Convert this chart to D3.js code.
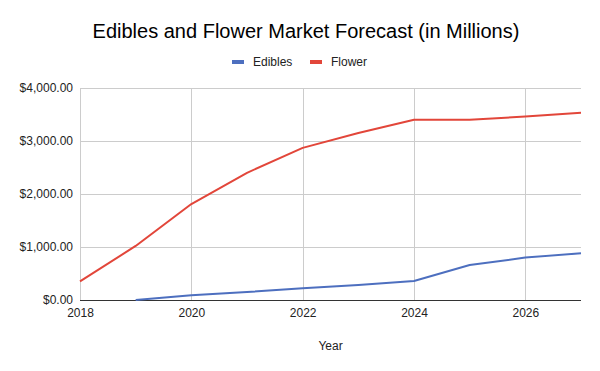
<!DOCTYPE html>
<html>
<head>
<meta charset="utf-8">
<script src="https://cdn.jsdelivr.net/npm/d3@7"></script>
<style>
  body { margin: 0; background: #fff; }
  text { font-family: "Liberation Sans", Arial, sans-serif; }
</style>
</head>
<body>
<div id="chart"></div>
<script>
// data
var years = [2018, 2019, 2020, 2021, 2022, 2023, 2024, 2025, 2026, 2027];
var edibles = [null, 0, 90, 150, 220, 285, 360, 660, 800, 880];
var flower = [350, 1020, 1810, 2400, 2870, 3150, 3400, 3400, 3460, 3535];
var xTicks = [2018, 2020, 2022, 2024, 2026];
var yTicks = [0, 1000, 2000, 3000, 4000];
var seriesNames = ["Edibles", "Flower"];
var colors = ["#4d6fbf", "#e2463a"];

var width = 600, height = 371;
var margin = { top: 88, right: 19, bottom: 71, left: 80 };
var w = width - margin.left - margin.right;
var h = height - margin.top - margin.bottom;

var svg = d3.select("#chart")
  .append("svg")
  .attr("width", width)
  .attr("height", height);

var x = d3.scaleLinear()
  .domain([2018, 2027])
  .range([0, w]);

var y = d3.scaleLinear()
  .domain([0, 4000])
  .range([h, 0]);

var g = svg.append("g")
  .attr("transform", "translate(" + margin.left + "," + margin.top + ")");

// gridlines
g.selectAll(".hgrid")
  .data(yTicks)
  .enter()
  .append("line")
  .attr("x1", 0)
  .attr("x2", w)
  .attr("y1", function(d) { return Math.round(y(d)) + 0.5; })
  .attr("y2", function(d) { return Math.round(y(d)) + 0.5; })
  .style("stroke", "#cccccc");

g.selectAll(".vgrid")
  .data(xTicks)
  .enter()
  .append("line")
  .attr("x1", function(d) { return Math.round(x(d)) + 0.5; })
  .attr("x2", function(d) { return Math.round(x(d)) + 0.5; })
  .attr("y1", 0)
  .attr("y2", h)
  .style("stroke", "#cccccc");

// y axis labels
var yAxis = d3.axisLeft(y)
  .tickValues(yTicks)
  .tickSize(0)
  .tickPadding(7)
  .tickFormat(function(d) { return "$" + d3.format(",.2f")(d); });

g.append("g")
  .call(yAxis)
  .call(function(s) { s.select(".domain").remove(); })
  .selectAll("text")
  .style("font-size", "12px")
  .style("fill", "#222");

// x axis labels
var xAxis = d3.axisBottom(x)
  .tickValues(xTicks)
  .tickSize(0)
  .tickPadding(8)
  .tickFormat(d3.format("d"));

g.append("g")
  .attr("transform", "translate(0," + h + ")")
  .call(xAxis)
  .call(function(s) { s.select(".domain").remove(); })
  .selectAll("text")
  .style("font-size", "12px")
  .style("fill", "#222");

// baseline
g.append("line")
  .attr("x1", 0)
  .attr("x2", w)
  .attr("y1", Math.round(y(0)) + 0.5)
  .attr("y2", Math.round(y(0)) + 0.5)
  .style("stroke", "#333");

// lines
var line = d3.line()
  .defined(function(d) { return d.v != null; })
  .x(function(d) { return x(d.year); })
  .y(function(d) { return y(d.v); });

[edibles, flower].forEach(function(vals, i) {
  var pts = years.map(function(yr, j) { return { year: yr, v: vals[j] }; });
  g.append("path")
    .datum(pts)
    .attr("d", line)
    .style("fill", "none")
    .style("stroke", colors[i])
    .style("stroke-width", 2)
    .style("stroke-linejoin", "round");
});

// title
svg.append("text")
  .attr("x", 306)
  .attr("y", 38)
  .attr("text-anchor", "middle")
  .style("font-size", "20px")
  .style("fill", "#000")
  .text("Edibles and Flower Market Forecast (in Millions)");

// legend
var legendX = [232, 310];
var legend = svg.selectAll(".legend")
  .data(seriesNames)
  .enter()
  .append("g")
  .attr("transform", function(d, i) { return "translate(" + legendX[i] + ",62)"; });

legend.append("rect")
  .attr("x", 0)
  .attr("y", -2)
  .attr("width", 12)
  .attr("height", 4)
  .style("fill", function(d, i) { return colors[i]; });

legend.append("text")
  .attr("x", 21)
  .attr("y", 4)
  .style("font-size", "12px")
  .style("fill", "#222")
  .text(function(d) { return d; });

// x axis title
svg.append("text")
  .attr("x", margin.left + w / 2)
  .attr("y", 350)
  .attr("text-anchor", "middle")
  .style("font-size", "12px")
  .style("fill", "#222")
  .text("Year");
</script>
</body>
</html>
